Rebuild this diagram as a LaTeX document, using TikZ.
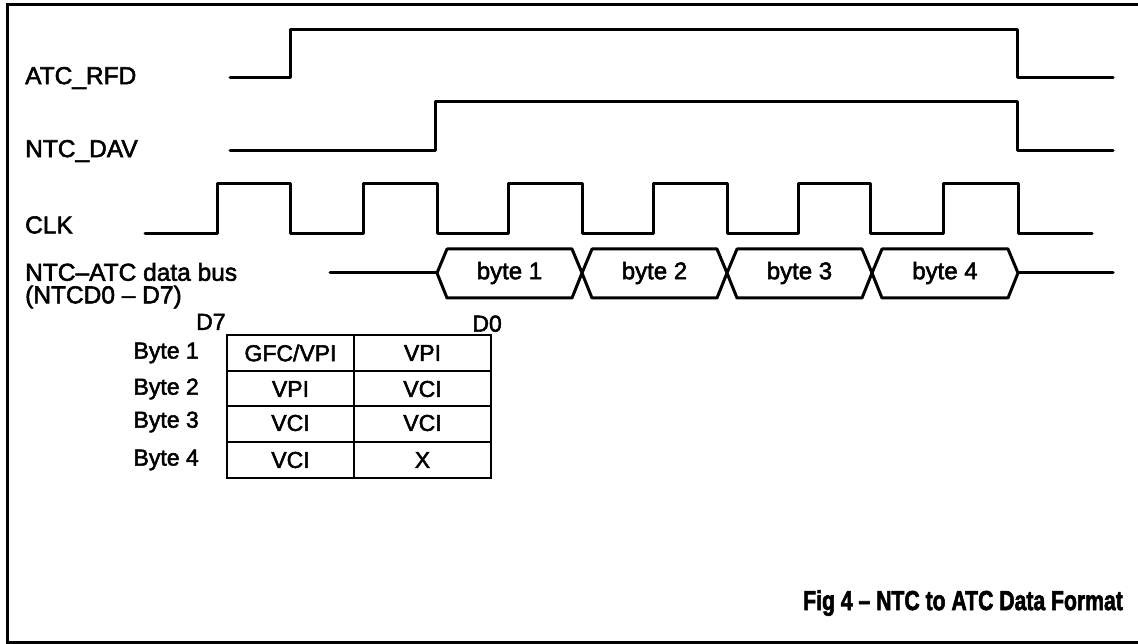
\documentclass[tikz,border=0pt]{standalone}
\usepackage{fontspec}
\setmainfont{Liberation Sans}[FakeBold=2.2]
\newfontfamily\capfont{Liberation Sans Bold}[FakeBold=2.5]
\begin{document}
\begin{tikzpicture}[x=1pt,y=-1pt,
  sig/.style={line width=3pt, line join=round, line cap=round},
  frame/.style={line width=3pt},
  grid/.style={line width=2.2pt},
  lbl/.style={anchor=west, inner sep=0pt, font=\fontsize{24.5}{26}\selectfont},
  rowlbl/.style={anchor=east, inner sep=0pt, font=\fontsize{23}{24}\selectfont},
  cell/.style={inner sep=0pt, font=\fontsize{23}{24}\selectfont},
  bytelbl/.style={inner sep=0pt, font=\fontsize{24}{26}\selectfont},
  caption/.style={anchor=east, inner sep=0pt, xscale=0.77, transform shape, font=\capfont\fontsize{27.5}{30}\selectfont}]
\useasboundingbox (0,0) rectangle (1138,644);
% frame
\draw[frame] (1138,5) -- (7,5) -- (7,642) -- (1138,642);
% signal labels
\node[lbl] (lrfd) at (25,78) {ATC\_RFD};
\node[lbl] (ldav) at (25,151) {NTC\_DAV};
\node[lbl] (lclk) at (25,225) {CLK};
\node[lbl] (lbus) at (25,272) {NTC–ATC data bus};
\node[lbl] (lbus2) at (25,297) {(NTCD0 – D7)};
% ATC_RFD
\draw[sig] (230,78) -- (290,78) -- (290,30) -- (1017,30) -- (1017,78) -- (1113,78);
% NTC_DAV
\draw[sig] (230,151) -- (435,151) -- (435,102) -- (1017,102) -- (1017,151) -- (1113,151);
% CLK
\draw[sig] (145,234)
  -- (217,234) -- (217,184) -- (290,184) -- (290,234)
  -- (363,234) -- (363,184) -- (437,184) -- (437,234)
  -- (508,234) -- (508,184) -- (582,184) -- (582,234)
  -- (653,234) -- (653,184) -- (727,184) -- (727,234)
  -- (798,234) -- (798,184) -- (870,184) -- (870,234)
  -- (943,234) -- (943,184) -- (1018,184) -- (1018,234) -- (1092,234);
% data bus
\draw[sig] (330,273) -- (437,273);
\foreach \a/\b/\t [count=\i] in {437/582/byte 1, 582/727/byte 2, 727/872/byte 3, 872/1018/byte 4}{
  \draw[sig] (\a,273) -- (\a+10,249) -- (\b-10,249) -- (\b,273) -- (\b-10,298) -- (\a+10,298) -- cycle;
  \node[bytelbl] (b\i) at ({(\a+\b)/2},273) {\t};
}
\draw[sig] (1018,273) -- (1113,273);
% table
\node[inner sep=0pt, anchor=south west, font=\fontsize{23}{24}\selectfont] (d7) at (196,330) {D7};
\node[inner sep=0pt, anchor=south east, font=\fontsize{23}{24}\selectfont] (d0) at (502,332) {D0};
\draw[grid] (227,335) rectangle (491,478);
\draw[grid] (227,371) -- (491,371);
\draw[grid] (227,406) -- (491,406);
\draw[grid] (227,442) -- (491,442);
\draw[grid] (354,335) -- (354,478);
\node[rowlbl] (r1) at (199,353) {Byte 1};
\node[rowlbl] (r2) at (199,389) {Byte 2};
\node[rowlbl] (r3) at (199,422) {Byte 3};
\node[rowlbl] (r4) at (199,460) {Byte 4};
\node[cell] (c11) at (290.5,353) {GFC/VPI};
\node[cell] (c12) at (422.5,353) {VPI};
\node[cell] (c21) at (290.5,389) {VPI};
\node[cell] (c22) at (422.5,389) {VCI};
\node[cell] (c31) at (290.5,423) {VCI};
\node[cell] (c32) at (422.5,423) {VCI};
\node[cell] (c41) at (290.5,460) {VCI};
\node[cell] (c42) at (422.5,460) {X};
% caption
\node[caption] (cap) at (1123,603) {Fig 4 – NTC to ATC Data Format};
\end{tikzpicture}
\end{document}
